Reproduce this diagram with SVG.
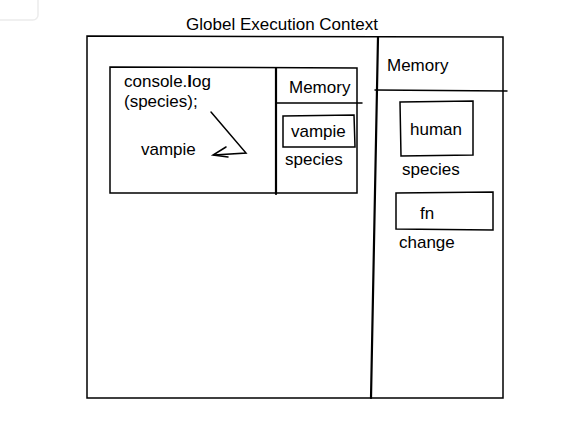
<svg xmlns="http://www.w3.org/2000/svg" width="575" height="432" viewBox="0 0 575 432">
<defs>
<style>
text{font-family:"Liberation Sans",Arial,sans-serif;font-size:17px;fill:#000}
.s{fill:none;stroke:#000;stroke-width:1.5;stroke-linecap:round}
.t{fill:none;stroke:#000;stroke-width:2.2;stroke-linecap:round}
</style>
</defs>
<rect x="-6" y="-6" width="44" height="26" rx="5" fill="#fff" stroke="#ececec" stroke-width="1.5"/>
<text x="282" y="30" text-anchor="middle">Globel Execution Context</text>
<g id="global-context">
<path class="s" d="M87 36 L503 37 L503 398 L87 398 Z"/>
<path class="t" d="M378 37 L371 398"/>
<path class="s" d="M375 90 L507 91"/>
<text x="387" y="71">Memory</text>
</g>
<g id="function-context">
<path class="s" d="M110 67 L357 68 L357 193 L110 193 Z"/>
<path class="t" d="M276 68 L276 194"/>
<path class="s" d="M276 103 L362 103"/>
<text x="289" y="93">Memory</text>
<text x="124" y="87">console.<tspan font-weight="bold">l</tspan>og</text>
<text x="124" y="107">(species);</text>
<text x="141" y="155">vampie</text>
</g>
<g id="local-species">
<path class="s" d="M283 116 L354 115 L355 147 L283 147 Z"/>
<text x="291" y="137">vampie</text>
<text x="285" y="165">species</text>
</g>
<g id="global-species">
<path class="s" d="M400 102 L473 101 L473 155 L401 156 Z"/>
<text x="410" y="135">human</text>
<text x="402" y="175">species</text>
</g>
<g id="global-change">
<path class="s" d="M396 193 L493 192 L493 230 L396 229 Z"/>
<text x="420" y="219">fn</text>
<text x="399" y="248">change</text>
</g>
<g id="connectors">
<path class="s" d="M211 112 L246 153 L214 155"/>
<path class="s" d="M226 147 L213 155 L228 157"/>
</g>
</svg>
